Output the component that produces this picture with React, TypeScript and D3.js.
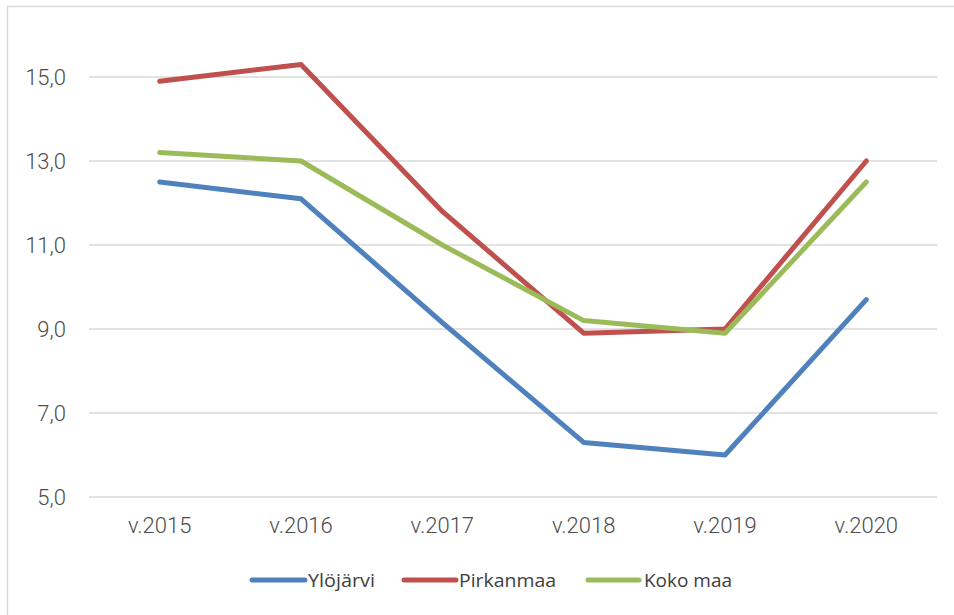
import React from "react";
import * as d3 from "d3";

const categories = ["v.2015", "v.2016", "v.2017", "v.2018", "v.2019", "v.2020"];
const ylojarvi = [12.5, 12.1, 9.15, 6.3, 6.0, 9.7];
const pirkanmaa = [14.9, 15.3, 11.8, 8.9, 9.0, 13.0];
const kokoMaa = [13.2, 13.0, 11.0, 9.2, 8.9, 12.5];
const seriesNames = ["Ylöjärvi", "Pirkanmaa", "Koko maa"];
const yTicks = [5, 7, 9, 11, 13, 15];

const colors = ["#4f81bd", "#c0504d", "#9bbb59"];

export default function App() {
  const W = 954;
  const H = 615;
  const x = d3.scalePoint<string>().domain(categories).range([89, 937]).padding(0.5);
  const y = d3.scaleLinear().domain([5, 15]).range([497, 77]);
  const line = d3
    .line<number>()
    .x((_, i) => x(categories[i]) as number)
    .y((d) => y(d));
  const series = [ylojarvi, pirkanmaa, kokoMaa];
  const fmt = (v: number) => v.toFixed(1).replace(".", ",");

  const legend = [
    { x1: 250, x2: 307, tx: 308, tw: 67 },
    { x1: 402, x2: 458, tx: 459, tw: 97 },
    { x1: 586, x2: 641, tx: 644, tw: 88 },
  ];

  return (
    <svg
      width={W}
      height={H}
      style={{ position: "fixed", left: 0, top: 0, background: "#fff" }}
    >
      <rect x={0} y={0} width={W} height={H} fill="#fff" />
      <path d={`M7.5,${H + 2}V6.5H${W + 2}`} fill="none" stroke="#d9d9d9" strokeWidth={1.5} />
      {yTicks.map((t) => (
        <g key={t}>
          <line x1={89} x2={937} y1={y(t)} y2={y(t)} stroke="#d9d9d9" strokeWidth={1.5} />
          <text
            x={66}
            y={y(t)}
            dy="0.36em"
            textAnchor="end"
            fontFamily="Roboto, 'Noto Sans', sans-serif"
            fontWeight={300}
            fontSize={22}
            fill="#4d4d4d"
          >
            {fmt(t)}
          </text>
        </g>
      ))}
      {categories.map((c) => (
        <text
          key={c}
          x={x(c)}
          y={533}
          textAnchor="middle"
          fontFamily="Roboto, 'Noto Sans', sans-serif"
          fontWeight={300}
          fontSize={22}
          fill="#4d4d4d"
        >
          {c}
        </text>
      ))}
      {series.map((s, i) => (
        <path
          key={i}
          d={line(s) || ""}
          fill="none"
          stroke={colors[i]}
          strokeWidth={5}
          strokeLinecap="round"
          strokeLinejoin="round"
        />
      ))}
      {legend.map((l, i) => (
        <g key={i}>
          <line
            x1={l.x1 + 2}
            x2={l.x2 - 2}
            y1={580}
            y2={580}
            stroke={colors[i]}
            strokeWidth={5}
            strokeLinecap="round"
          />
          <text
            x={l.tx}
            y={587}
            fontFamily="'Liberation Sans Narrow', 'Open Sans', sans-serif"
            fontSize={19}
            fill="#404040"
            textLength={l.tw}
            lengthAdjust="spacingAndGlyphs"
          >
            {seriesNames[i]}
          </text>
        </g>
      ))}
    </svg>
  );
}
